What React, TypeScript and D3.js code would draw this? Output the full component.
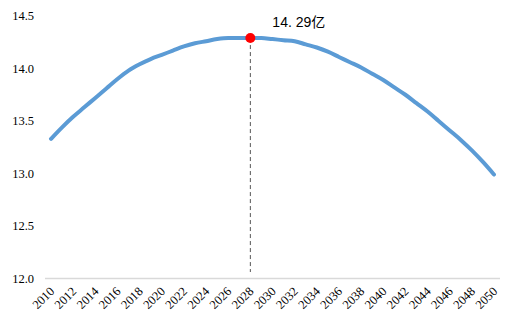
import React from 'react';
import * as d3 from 'd3';

// population forecast, 亿
const years = d3.range(2010, 2051);
const population = [
  13.33, 13.44, 13.54, 13.63, 13.72, 13.81, 13.9, 13.98, 14.04, 14.09,
  14.13, 14.17, 14.21, 14.24, 14.26, 14.28, 14.29, 14.29, 14.29, 14.29,
  14.28, 14.27, 14.26, 14.23, 14.2, 14.16, 14.11, 14.06, 14.01, 13.95,
  13.89, 13.82, 13.75, 13.67, 13.59, 13.5, 13.41, 13.32, 13.22, 13.11,
  12.99,
];
const yTicks = [12.0, 12.5, 13.0, 13.5, 14.0, 14.5];
const xTickYears = years.filter((y) => y % 2 === 0);
const peakYear = 2028;
const peakLabel = '14. 29亿';

const width = 520;
const height = 325;

export default function App() {
  const x = d3.scaleLinear().domain([2010, 2050]).range([51, 494]);
  const y = d3.scaleLinear().domain([12, 14.5]).range([278.5, 16]);

  const line = d3
    .line<number>()
    .x((d, i) => x(years[i]))
    .y((d) => y(d))
    .curve(d3.curveMonotoneX);

  const peakVal = population[years.indexOf(peakYear)];
  const serif = "'Liberation Serif', 'Times New Roman', serif";

  return (
    <svg
      width={width}
      height={height}
      style={{ position: 'absolute', left: 0, top: 0, background: '#fff' }}
    >
      {/* y labels */}
      {yTicks.map((t) => (
        <text
          key={t}
          x={34}
          y={y(t)}
          dy="0.35em"
          textAnchor="end"
          style={{ fontFamily: serif, fontSize: '12.5px' }}
          fill="#000"
        >
          {t.toFixed(1)}
        </text>
      ))}

      {/* x axis */}
      <line x1={45} x2={500} y1={278.5} y2={278.5} stroke="#d9d9d9" strokeWidth={1.5} />
      {xTickYears.map((yr) => (
        <text
          key={yr}
          transform={`translate(${x(yr) + 1},${289}) rotate(-45)`}
          textAnchor="end"
          dy="0.35em"
          style={{ fontFamily: serif, fontSize: '12.5px' }}
          fill="#000"
        >
          {yr}
        </text>
      ))}

      {/* peak guide */}
      <line
        x1={x(peakYear)}
        x2={x(peakYear)}
        y1={y(peakVal)}
        y2={272}
        stroke="#555"
        strokeWidth={1}
        strokeDasharray="4,3"
      />

      <path
        d={line(population) || ''}
        fill="none"
        stroke="#5b9bd5"
        strokeWidth={4}
        strokeLinecap="round"
      />

      <circle cx={x(peakYear)} cy={y(peakVal)} r={5} fill="#ff0000" />
      <text
        x={x(peakYear) + 22}
        y={27}
        style={{ fontFamily: "'Liberation Sans', 'Noto Sans CJK SC', sans-serif", fontSize: '14px' }}
        fill="#000"
      >
        {peakLabel}
      </text>
    </svg>
  );
}
